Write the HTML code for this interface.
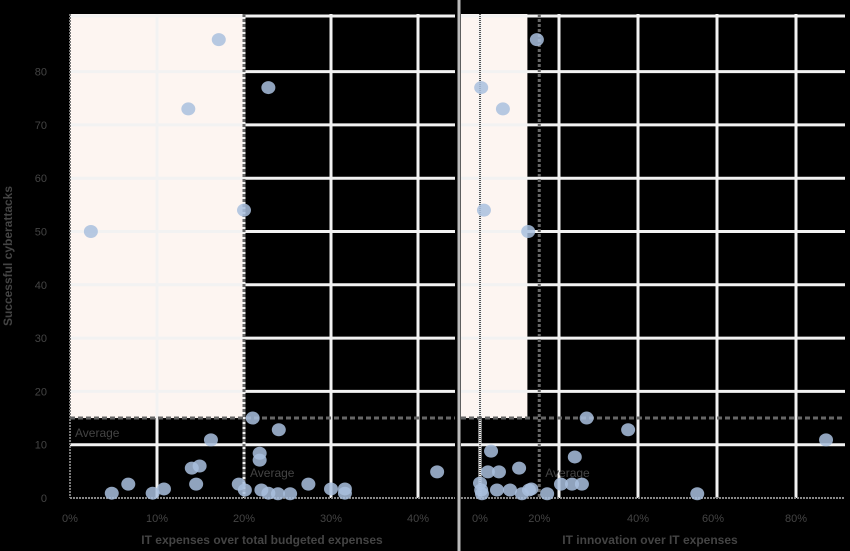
<!DOCTYPE html>
<html><head><meta charset="utf-8"><style>
html,body{margin:0;padding:0;background:#000;}
svg{display:block;font-family:"Liberation Sans",sans-serif;}
</style></head><body>
<svg id="chart" width="850" height="551" viewBox="0 0 850 551" xmlns="http://www.w3.org/2000/svg">
<rect x="0" y="0" width="850" height="551" fill="#000"/>
<g id="g"></g>
</svg>
<script>
// ---- data ----
const yTicks = [0,10,20,30,40,50,60,70,80];
const leftTicks = [0,10,20,30,40];
const leftTickLabels = ["0%","10%","20%","30%","40%"];
const rightGrid = [0,20,40,60,80];
const rightTicks = [0,15,40,59,80];
const rightTickLabels = ["0%","20%","40%","60%","80%"];
const avgAttacks = 15;
const leftAvg = 20;
const rightAvg = 15;
const leftX = [2.4,13.6,17.1,22.8,20,21,24,16.2,21.8,21.8,14,14.9,14.5,6.7,4.8,9.5,10.8,19.4,20.1,22,22.8,23.9,25.3,27.4,30,31.6,31.6,42.2];
const leftY = [50,73,86,77,54,15,12.8,10.9,8.4,7.1,5.6,6,2.6,2.6,0.9,0.9,1.7,2.6,1.5,1.5,0.9,0.8,0.8,2.6,1.7,1.7,0.9,4.9];
const rightX = [14.4,0.3,5.8,1,12.2,27,37.5,87.6,2.8,24,2,4.8,9.9,0,0.3,0.5,4.3,7.6,12.4,10.6,13,17,20.5,23.3,25.8,55];
const rightY = [86,77,73,54,50,15,12.8,10.9,8.8,7.7,4.9,4.9,5.6,2.8,1.5,0.8,1.5,1.5,1.5,0.8,1.7,0.8,2.6,2.6,2.6,0.8];

// ---- scales ----
const plotTop=14, plotBot=498;
const yS = v => plotBot - v*5.33;
const lx = v => 70 + v*8.7;
const rx = v => 480 + v*3.95;
const NS="http://www.w3.org/2000/svg";
const g=document.getElementById('g');
function mk(tag,attrs,txt){const el=document.createElementNS(NS,tag);for(const k in attrs)el.setAttribute(k,attrs[k]);if(txt!==undefined)el.textContent=txt;g.appendChild(el);return el;}

let e;
e=mk('rect',{x:lx(0),y:plotTop,width:lx(leftAvg)-lx(0),height:yS(avgAttacks)-plotTop,fill:'#fdf5f1'});


e=mk('rect',{x:461,y:plotTop,width:rx(12)-461,height:yS(avgAttacks)-plotTop,fill:'#fdf5f1'});



yTicks.forEach(t=>{ if(t===0) return;
  e=mk('line',{x1:70,x2:455,y1:yS(t),y2:yS(t),stroke:'#f2f2f2','stroke-width':3});
  
  
  e=mk('line',{x1:461,x2:845,y1:yS(t),y2:yS(t),stroke:'#f2f2f2','stroke-width':3});
  
  
});
e=mk('line',{x1:70,x2:455,y1:plotTop+2,y2:plotTop+2,stroke:'#f2f2f2','stroke-width':3});


e=mk('line',{x1:461,x2:845,y1:plotTop+2,y2:plotTop+2,stroke:'#f2f2f2','stroke-width':3});


leftTicks.forEach(t=>{ if(t===0) return;
  e=mk('line',{x1:lx(t),x2:lx(t),y1:plotTop,y2:plotBot,stroke:'#f2f2f2','stroke-width':3});
  
  
});
rightGrid.forEach(t=>{
  e=mk('line',{x1:rx(t),x2:rx(t),y1:plotTop,y2:plotBot,stroke:'#f2f2f2','stroke-width':3});
  
  
});
e=mk('line',{x1:459,x2:459,y1:0,y2:551,stroke:'#bbb','stroke-width':3});


e=mk('line',{x1:70,x2:70,y1:plotTop,y2:plotBot,stroke:'#777','stroke-width':2,'stroke-dasharray':'2 1'});


e=mk('line',{x1:70,x2:455,y1:plotBot,y2:plotBot,stroke:'#888','stroke-width':2,'stroke-dasharray':'2 1'});


e=mk('line',{x1:461,x2:845,y1:plotBot,y2:plotBot,stroke:'#888','stroke-width':2,'stroke-dasharray':'2 1'});


e=mk('line',{x1:70,x2:455,y1:yS(avgAttacks),y2:yS(avgAttacks),stroke:'#666','stroke-width':3,'stroke-dasharray':'5 3'});


e=mk('line',{x1:461,x2:845,y1:yS(avgAttacks),y2:yS(avgAttacks),stroke:'#666','stroke-width':3,'stroke-dasharray':'5 3'});


e=mk('line',{x1:lx(leftAvg),x2:lx(leftAvg),y1:plotTop,y2:plotBot,stroke:'#666','stroke-width':3,'stroke-dasharray':'3 2'});


e=mk('line',{x1:rx(rightAvg),x2:rx(rightAvg),y1:plotTop,y2:plotBot,stroke:'#666','stroke-width':3,'stroke-dasharray':'3 2'});


e=mk('line',{x1:rx(0),x2:rx(0),y1:plotTop,y2:plotBot,stroke:'#555','stroke-width':2,'stroke-dasharray':'1 1'});



e=mk('text',{x:75,y:437,fill:'#444','font-size':12},'Average');


e=mk('text',{x:lx(leftAvg)+6,y:477,fill:'#444','font-size':12},'Average');


e=mk('text',{x:rx(rightAvg)+6,y:477,fill:'#444','font-size':12},'Average');



leftX.forEach((v,i)=>{
  e=mk('ellipse',{cx:lx(v),cy:yS(leftY[i]),rx:7,ry:6.5,fill:'#a9c0de','fill-opacity':0.85});
  
  
});
rightX.forEach((v,i)=>{
  e=mk('ellipse',{cx:rx(v),cy:yS(rightY[i]),rx:7,ry:6.5,fill:'#a9c0de','fill-opacity':0.85});
  
  
});

yTicks.forEach(t=>{
  e=mk('text',{x:47,y:yS(t)+4,fill:'#444','font-size':11,'text-anchor':'end'},String(t));
  
  
});
leftTicks.forEach((t,i)=>{
  e=mk('text',{x:lx(t),y:522,fill:'#444','font-size':11,'text-anchor':'middle'},leftTickLabels[i]);
  
  
});
rightTicks.forEach((t,i)=>{
  e=mk('text',{x:rx(t),y:522,fill:'#444','font-size':11,'text-anchor':'middle'},rightTickLabels[i]);
  
  
});
e=mk('text',{x:262,y:544,fill:'#444','font-size':12,'font-weight':'bold','text-anchor':'middle'},'IT expenses over total budgeted expenses');


e=mk('text',{x:650,y:544,fill:'#444','font-size':12,'font-weight':'bold','text-anchor':'middle'},'IT innovation over IT expenses');


e=mk('text',{x:12,y:256,fill:'#444','font-size':12,'font-weight':'bold','text-anchor':'middle',transform:'rotate(-90 12 256)'},'Successful cyberattacks');


</script>
</body></html>
